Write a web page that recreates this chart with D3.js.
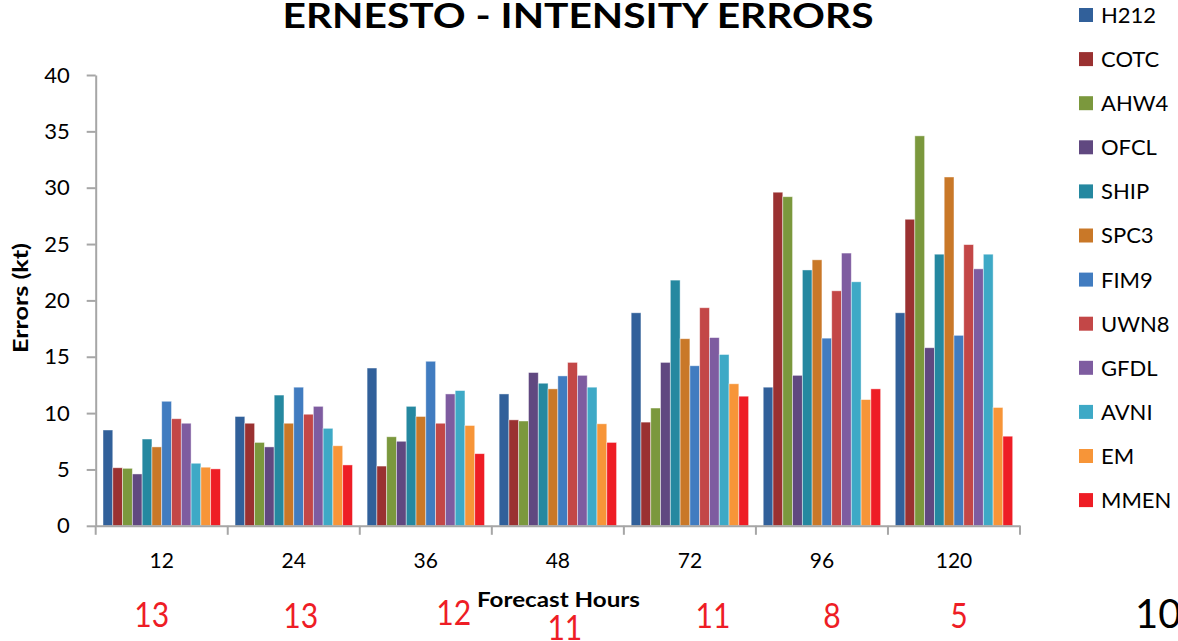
<!DOCTYPE html>
<html>
<head>
<meta charset="utf-8">
<script src="https://cdn.jsdelivr.net/npm/d3@7"></script>
<style>
  html, body { margin: 0; padding: 0; background: #fff; overflow: hidden; }
  svg { display: block; font-family: Lato, "Open Sans", sans-serif; }
</style>
</head>
<body>
<svg id="chart" width="1178" height="641"></svg>
<script>
// Forecast lead times (hours)
const categories = ["12", "24", "36", "48", "72", "96", "120"];
const seriesNames = ["H212", "COTC", "AHW4", "OFCL", "SHIP", "SPC3", "FIM9", "UWN8", "GFDL", "AVNI", "EM", "MMEN"];

// Mean intensity errors (kt) per model, one value per lead time
const h212 = [8.5, 9.7, 14.0, 11.7, 18.9, 12.3, 18.9];
const cotc = [5.15, 9.1, 5.3, 9.4, 9.2, 29.6, 27.2];
const ahw4 = [5.1, 7.4, 7.9, 9.3, 10.45, 29.2, 34.6];
const ofcl = [4.6, 7.0, 7.5, 13.6, 14.5, 13.35, 15.8];
const ship = [7.7, 11.6, 10.6, 12.65, 21.8, 22.7, 24.1];
const spc3 = [7.0, 9.1, 9.7, 12.15, 16.6, 23.6, 30.95];
const fim9 = [11.05, 12.3, 14.6, 13.3, 14.2, 16.65, 16.9];
const uwn8 = [9.5, 9.9, 9.1, 14.5, 19.35, 20.85, 24.95];
const gfdl = [9.1, 10.6, 11.7, 13.35, 16.7, 24.2, 22.8];
const avni = [5.55, 8.65, 12.0, 12.3, 15.2, 21.65, 24.1];
const em   = [5.2, 7.1, 8.9, 9.05, 12.6, 11.2, 10.5];
const mmen = [5.05, 5.4, 6.4, 7.4, 11.5, 12.15, 7.95];

// Number of verifying cases at each lead time
const caseCounts = [13, 13, 12, 11, 11, 8, 5];

// Y axis tick values
const yTicks = [0, 5, 10, 15, 20, 25, 30, 35, 40];

const seriesValues = [h212, cotc, ahw4, ofcl, ship, spc3, fim9, uwn8, gfdl, avni, em, mmen];
const colors = ["#31609A", "#9A3131", "#7B983D", "#604880", "#2588A0", "#C97828",
                "#417CC0", "#C34747", "#7E5CA0", "#3EA9C6", "#F79538", "#EE1D25"];

// ---- layout ----
const plot = { left: 95.7, right: 1020, top: 75, bottom: 525.8 };
// hand-placed nudges for the case-count annotations (px)
const countNudgeX = [-10, 7, 28, 7, 23, 10, 5];
const countBaseline = [627, 628, 625, 640, 628, 628, 628];

const svg = d3.select("#chart");

const x0 = d3.scaleBand().domain(categories).range([plot.left, plot.right]).padding(0);
const gap = 7.3;
const x1 = d3.scaleBand().domain(seriesNames).range([gap, x0.bandwidth() - gap]).padding(0);
const y = d3.scaleLinear().domain([0, 40]).range([plot.bottom, plot.top]);
const color = d3.scaleOrdinal().domain(seriesNames).range(colors);

const rows = categories.map((c, i) => ({
  cat: c,
  vals: seriesNames.map((s, j) => ({ s, v: seriesValues[j][i] }))
}));

// bars
const groups = svg.append("g").selectAll("g")
  .data(rows).join("g")
  .attr("transform", d => `translate(${x0(d.cat)},0)`);

groups.selectAll("rect")
  .data(d => d.vals).join("rect")
  .attr("x", d => x1(d.s))
  .attr("width", x1.bandwidth())
  .attr("y", d => y(d.v))
  .attr("height", d => y(0) - y(d.v))
  .attr("fill", d => color(d.s))
  .attr("stroke", "#fff")
  .attr("stroke-opacity", 0.55)
  .attr("stroke-width", 0.8);

const axisColor = "#A6A6A6";

// y axis
const yAxis = svg.append("g")
  .attr("transform", `translate(${plot.left},0)`)
  .call(d3.axisLeft(y).tickValues(yTicks).tickSize(9).tickSizeOuter(0).tickPadding(17));
yAxis.select(".domain").attr("stroke", axisColor).attr("stroke-width", 2);
yAxis.selectAll(".tick line").attr("stroke", axisColor).attr("stroke-width", 2);
yAxis.selectAll(".tick text")
  .attr("fill", "#000").attr("font-size", 22).attr("font-family", "Lato, sans-serif");

// x axis: line with ticks at category boundaries
const xAxis = d3.axisBottom(x0).tickSize(0).tickPadding(0).tickSizeOuter(0);
const xg = svg.append("g").attr("transform", `translate(0,${plot.bottom})`).call(xAxis);
xg.select(".domain").attr("stroke", axisColor).attr("stroke-width", 2);
xg.selectAll(".tick text")
  .attr("fill", "#000").attr("font-size", 21).attr("font-family", "Lato, sans-serif")
  .attr("dy", null).attr("y", 42);

const boundaries = categories.map(c => x0(c)).concat([x0(categories[categories.length - 1]) + x0.bandwidth()]);
svg.append("g").selectAll("line")
  .data(boundaries).join("line")
  .attr("x1", d => d).attr("x2", d => d)
  .attr("y1", plot.bottom).attr("y2", plot.bottom + 9)
  .attr("stroke", axisColor).attr("stroke-width", 2);

// title
svg.append("text")
  .attr("x", 578).attr("y", 28)
  .attr("text-anchor", "middle")
  .attr("font-weight", "bold").attr("font-size", 35)
  .attr("textLength", 591).attr("lengthAdjust", "spacingAndGlyphs")
  .text("ERNESTO - INTENSITY ERRORS");

// y axis title
svg.append("text")
  .attr("transform", `translate(28,298) rotate(-90)`)
  .attr("text-anchor", "middle")
  .attr("font-weight", "bold").attr("font-size", 20)
  .attr("textLength", 110).attr("lengthAdjust", "spacingAndGlyphs")
  .text("Errors (kt)");

// x axis title
svg.append("text")
  .attr("x", 558.5).attr("y", 607)
  .attr("text-anchor", "middle")
  .attr("font-weight", "bold").attr("font-size", 20)
  .attr("textLength", 163).attr("lengthAdjust", "spacingAndGlyphs")
  .text("Forecast Hours");

// case counts under each lead time
svg.append("g").selectAll("text")
  .data(caseCounts).join("text")
  .attr("x", (d, i) => x0(categories[i]) + x0.bandwidth() / 2 + countNudgeX[i])
  .attr("y", (d, i) => countBaseline[i])
  .attr("text-anchor", "middle")
  .attr("font-size", 35)
  .attr("fill", "#EE1D25")
  .text(d => d)
  .each(function () {
    const w = this.getComputedTextLength();
    d3.select(this).attr("textLength", w * 0.86).attr("lengthAdjust", "spacingAndGlyphs");
  });

// slide number
svg.append("text")
  .attr("x", 1135).attr("y", 628)
  .attr("font-size", 40)
  .attr("fill", "#000")
  .text("10");

// legend
const legend = svg.append("g").selectAll("g")
  .data(seriesNames).join("g")
  .attr("transform", (d, i) => `translate(1079,${15 + i * 44.1})`);
legend.append("rect")
  .attr("x", 0).attr("y", -7).attr("width", 14).attr("height", 14)
  .attr("fill", d => color(d));
legend.append("text")
  .attr("x", 22).attr("y", 0).attr("dy", "0.36em")
  .attr("font-size", 22)
  .attr("fill", "#000")
  .text(d => d);
</script>
</body>
</html>
